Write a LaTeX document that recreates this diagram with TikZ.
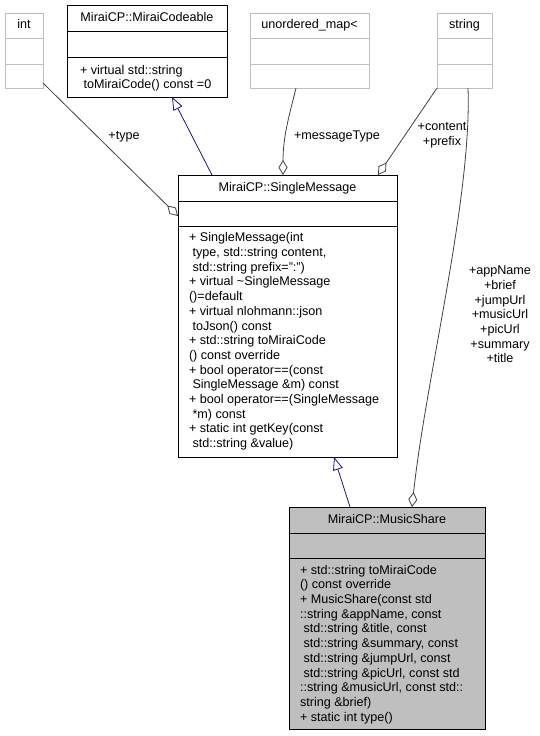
\documentclass[tikz,border=0pt]{standalone}
\usepackage{fontspec}
\setmainfont{Liberation Sans}
\usetikzlibrary{arrows.meta}

\definecolor{edgegray}{HTML}{404040}
\definecolor{boxgray}{HTML}{BFBFBF}
\definecolor{inhblue}{HTML}{191970}

\begin{document}
\begin{tikzpicture}
   [x=1pt,y=-1pt,
    every node/.style={font=\fontsize{12.6}{14.7}\selectfont, inner sep=0pt, outer sep=0pt},
    clsbox/.style={draw=black, rectangle, anchor=north west, line width=1pt},
    extbox/.style={draw=boxgray, rectangle, anchor=north west, line width=1pt, minimum height=75pt},
    members/.style={anchor=north west, align=left},
    aggr/.style={draw=edgegray, line width=0.8pt, {Diamond[open,length=15pt,width=9pt]}-},
    inh/.style={draw=inhblue, line width=0.8pt, -{Triangle[open,length=13pt,width=10pt]}}]
   \useasboundingbox (0,0) rectangle (539,736);

   % member types
   \foreach \name/\x/\w/\txt in {int/5/38/int, umap/250/119/unordered\_map<, str/437/55/string}
   {
      \node[extbox, minimum width=\w pt] (\name) at (\x,13) {};
      \node[anchor=base] (\name-title) at ([yshift=-15.5pt]\name.north) {\txt};
      \draw[boxgray, line width=1pt] ([yshift=-25pt]\name.north west) -- ([yshift=-25pt]\name.north east)
                                     ([yshift=-51pt]\name.north west) -- ([yshift=-51pt]\name.north east);
   }

   % MiraiCodeable
   \node[clsbox, minimum width=160pt, minimum height=92pt] (mc) at (67,5) {};
   \node[anchor=base] (mc-title) at ([yshift=-16.5pt]mc.north) {MiraiCP::MiraiCodeable};
   \draw[line width=1pt] ([yshift=-26pt]mc.north west) -- ([yshift=-26pt]mc.north east)
                         ([yshift=-52pt]mc.north west) -- ([yshift=-52pt]mc.north east);
   \node[members] (mc-ops) at (80,65) {+ virtual std::string\\\ toMiraiCode() const =0};

   % SingleMessage
   \node[clsbox, minimum width=219pt, minimum height=282pt] (sm) at (178,175) {};
   \node[anchor=base] (sm-title) at ([yshift=-16.5pt]sm.north) {MiraiCP::SingleMessage};
   \draw[line width=1pt] ([yshift=-26pt]sm.north west) -- ([yshift=-26pt]sm.north east)
                         ([yshift=-51pt]sm.north west) -- ([yshift=-51pt]sm.north east);
   \node[members] (sm-ops) at (189,232.7) {+ SingleMessage(int\\\ type, std::string content,\\\ std::string prefix=":")\\+ virtual \textasciitilde SingleMessage\\()=default\\+ virtual nlohmann::json\\\ toJson() const\\+ std::string toMiraiCode\\() const override\\+ bool operator==(const\\\ SingleMessage \&m) const\\+ bool operator==(SingleMessage\\\ *m) const\\+ static int getKey(const\\\ std::string \&value)};

   % MusicShare
   \node[clsbox, fill=boxgray, minimum width=196pt, minimum height=222pt] (ms) at (289,507) {};
   \node[anchor=base] (ms-title) at ([yshift=-16.5pt]ms.north) {MiraiCP::MusicShare};
   \draw[line width=1pt] ([yshift=-26pt]ms.north west) -- ([yshift=-26pt]ms.north east)
                         ([yshift=-51pt]ms.north west) -- ([yshift=-51pt]ms.north east);
   \node[members] (ms-ops) at (300,565) {+ std::string toMiraiCode\\() const override\\+ MusicShare(const std\\::string \&appName, const\\\ std::string \&title, const\\\ std::string \&summary, const\\\ std::string \&jumpUrl, const\\\ std::string \&picUrl, const std\\::string \&musicUrl, const std::\\string \&brief)\\+ static int type()};

   % connectors
   \draw[inh] ([xshift=34pt]sm.north west) -- ([xshift=105pt]mc.south west);
   \draw[inh] ([xshift=61pt]ms.north west) -- ([xshift=156pt]sm.south west);
   \draw[aggr] ([yshift=-41pt]sm.north west) -- ([yshift=5pt]int.south east);
   \draw[aggr] ([xshift=105pt]sm.north west) .. controls +(0,-40) and +(-6,25) .. ([xshift=46pt]umap.south west);
   \draw[aggr] ([xshift=200pt]sm.north west) -- (str.south west);
   \draw[aggr] ([xshift=123pt]ms.north west) .. controls +(14,-130) and +(4,110) .. ([xshift=31pt]str.south west);

   % connector labels
   \node[anchor=base] (type-lbl) at (124,139.5) {+type};
   \node[anchor=base] (mtype-lbl) at (337,139) {+messageType};
   \node[anchor=north, align=center] (content-lbl) at (442,122.5) {+content\\+prefix};
   \node[anchor=north, align=center] (music-lbl) at (500,266) {+appName\\+brief\\+jumpUrl\\+musicUrl\\+picUrl\\+summary\\+title};
\end{tikzpicture}
\end{document}
